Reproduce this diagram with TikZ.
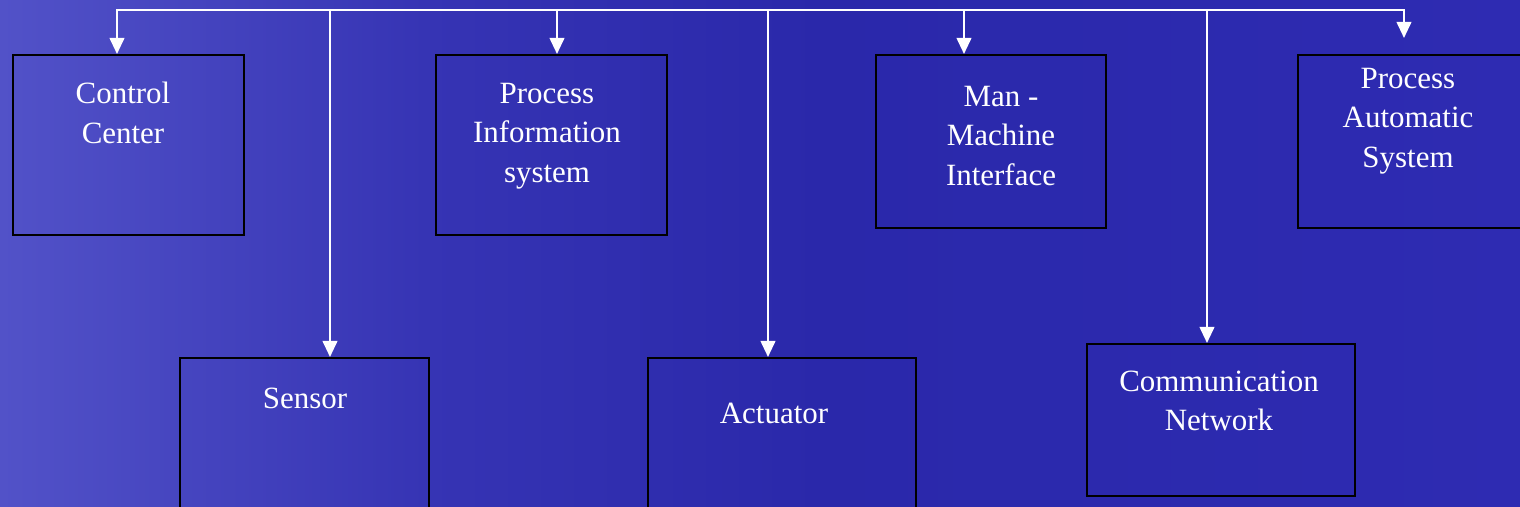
\documentclass[tikz,border=0pt]{standalone}
\usepackage{fontspec}
\setmainfont{Liberation Serif}
\usetikzlibrary{arrows.meta}
\definecolor{bga}{RGB}{82,82,200}
\definecolor{bgb}{RGB}{54,52,180}
\definecolor{bgc}{RGB}{42,40,170}
\definecolor{bgd}{RGB}{46,43,178}
\pgfdeclarehorizontalshading{bgshade}{100bp}{color(0bp)=(bga); color(25bp)=(bga); color(39bp)=(bgb); color(52bp)=(bgc); color(75bp)=(bgd); color(100bp)=(bgd)}
\tikzset{
  boxnode/.style={draw=black, line width=0.65pt, rectangle, anchor=north west, inner sep=0pt},
  lbl/.style={text=white, align=center, font=\fontsize{8.8}{11.3}\selectfont},
  busline/.style={draw=white, line width=0.6pt},
  tap/.style={busline, -{Triangle[width=4.2pt,length=4.6pt]}}
}
\begin{document}
\begin{tikzpicture}[x=0.01cm,y=-0.01cm]
\useasboundingbox (0,0) rectangle (1520,507);
\shade[shading=bgshade] (0,0) rectangle (1520,507);
\begin{scope}
\clip (0,0) rectangle (1520,507);
% boxes
\node[boxnode, minimum width=2.31cm, minimum height=1.80cm] (cc) at (12,54) {};
\node[boxnode, minimum width=2.31cm, minimum height=1.80cm] (pis) at (435,54) {};
\node[boxnode, minimum width=2.30cm, minimum height=1.73cm] (mmi) at (875,54) {};
\node[boxnode, minimum width=2.40cm, minimum height=1.73cm] (pas) at (1297,54) {};
\node[boxnode, minimum width=2.49cm, minimum height=1.70cm] (sen) at (179,357) {};
\node[boxnode, minimum width=2.68cm, minimum height=1.70cm] (act) at (647,357) {};
\node[boxnode, minimum width=2.68cm, minimum height=1.52cm] (com) at (1086,343) {};
\end{scope}
% labels
\node[lbl] (tcc) at (123,113) {Control\\Center};
\node[lbl] (tpis) at (547,136) {Process\\Information\\system};
\node[lbl] (tmmi) at (1001,136) {Man -\\Machine\\Interface};
\node[lbl] (tpas) at (1408,121) {Process\\Automatic\\System};
\node[lbl] (tsen) at (305,398) {Sensor};
\node[lbl] (tact) at (774,413) {Actuator};
\node[lbl] (tcom) at (1219,401) {Communication\\Network};
% bus
\coordinate (b1) at (117,10);
\coordinate (b2) at (330,10);
\coordinate (b3) at (557,10);
\coordinate (b4) at (768,10);
\coordinate (b5) at (964,10);
\coordinate (b6) at (1207,10);
\coordinate (b7) at (1404,10);
\draw[busline, line cap=rect] (b1) -- (b7);
\draw[tap] (b1) -- (b1 |- cc.north);
\draw[tap] (b2) -- (b2 |- sen.north);
\draw[tap] (b3) -- (b3 |- pis.north);
\draw[tap] (b4) -- (b4 |- act.north);
\draw[tap] (b5) -- (b5 |- mmi.north);
\draw[tap] (b6) -- (b6 |- com.north);
\draw[tap] (b7) -- ([yshift=0.16cm]b7 |- pas.north);
\end{tikzpicture}
\end{document}
